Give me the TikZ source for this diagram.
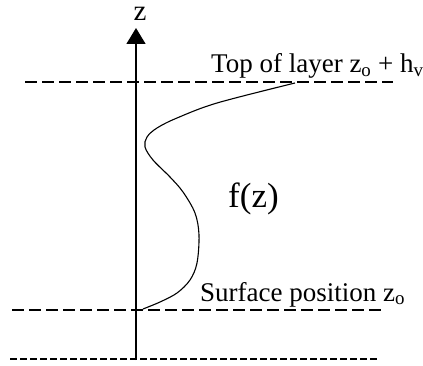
\documentclass[tikz,border=0pt]{standalone}
\usepackage{fontspec}
\setmainfont{Liberation Serif}
\usetikzlibrary{arrows.meta,positioning}
\tikzset{
  layerline/.style={line width=1.1pt, dash pattern=on 12pt off 5pt},
  baseline line/.style={line width=1.1pt, dash pattern=on 7pt off 3pt},
  lbl/.style={inner sep=0pt, font=\fontsize{27}{30}\selectfont},
}
\begin{document}
\begin{tikzpicture}[x=1pt,y=1pt]
    \useasboundingbox (0,0) rectangle (423,365);

    %%% Axis %%%
    \coordinate (O) at (136,5);
    \coordinate (T) at (136,337);
    \draw[line width=1.4pt,-{Triangle[length=16pt,width=19pt]}] (O)--(T);
    \node[lbl, anchor=base, font=\fontsize{29}{32}\selectfont] (zlab) at (140,344) {z};

    %%% Layers %%%
    \coordinate (A) at (25,283);   \coordinate (B) at (393,283);
    \coordinate (C) at (12,55);    \coordinate (D) at (382,55);
    \coordinate (E) at (10,6);     \coordinate (F) at (378,6);
    \draw[layerline] (A)--(B);
    \draw[layerline] (C)--(D);
    \draw[baseline line] (E)--(F);
    \node[lbl, anchor=base west] (top) at (211,292) {Top of layer z\textsubscript{o} + h\textsubscript{v}};
    \node[lbl, anchor=base west] (surf) at (200,64) {Surface position z\textsubscript{o}};

    %%% Profile %%%
    \draw[line width=1.1pt] plot[smooth, tension=0.55] coordinates
        {(295,282) (217,262) (177,247) (157,237) (147,228) (145,218) (153,205) (170,188)
         (183,173) (195,152) (199,130) (197,102) (190,85) (177,72) (160,63) (143,56)};
    \node[lbl, anchor=base west, font=\fontsize{35}{38}\selectfont] (fz) at (228,158) {f(z)};

\end{tikzpicture}
\end{document}
